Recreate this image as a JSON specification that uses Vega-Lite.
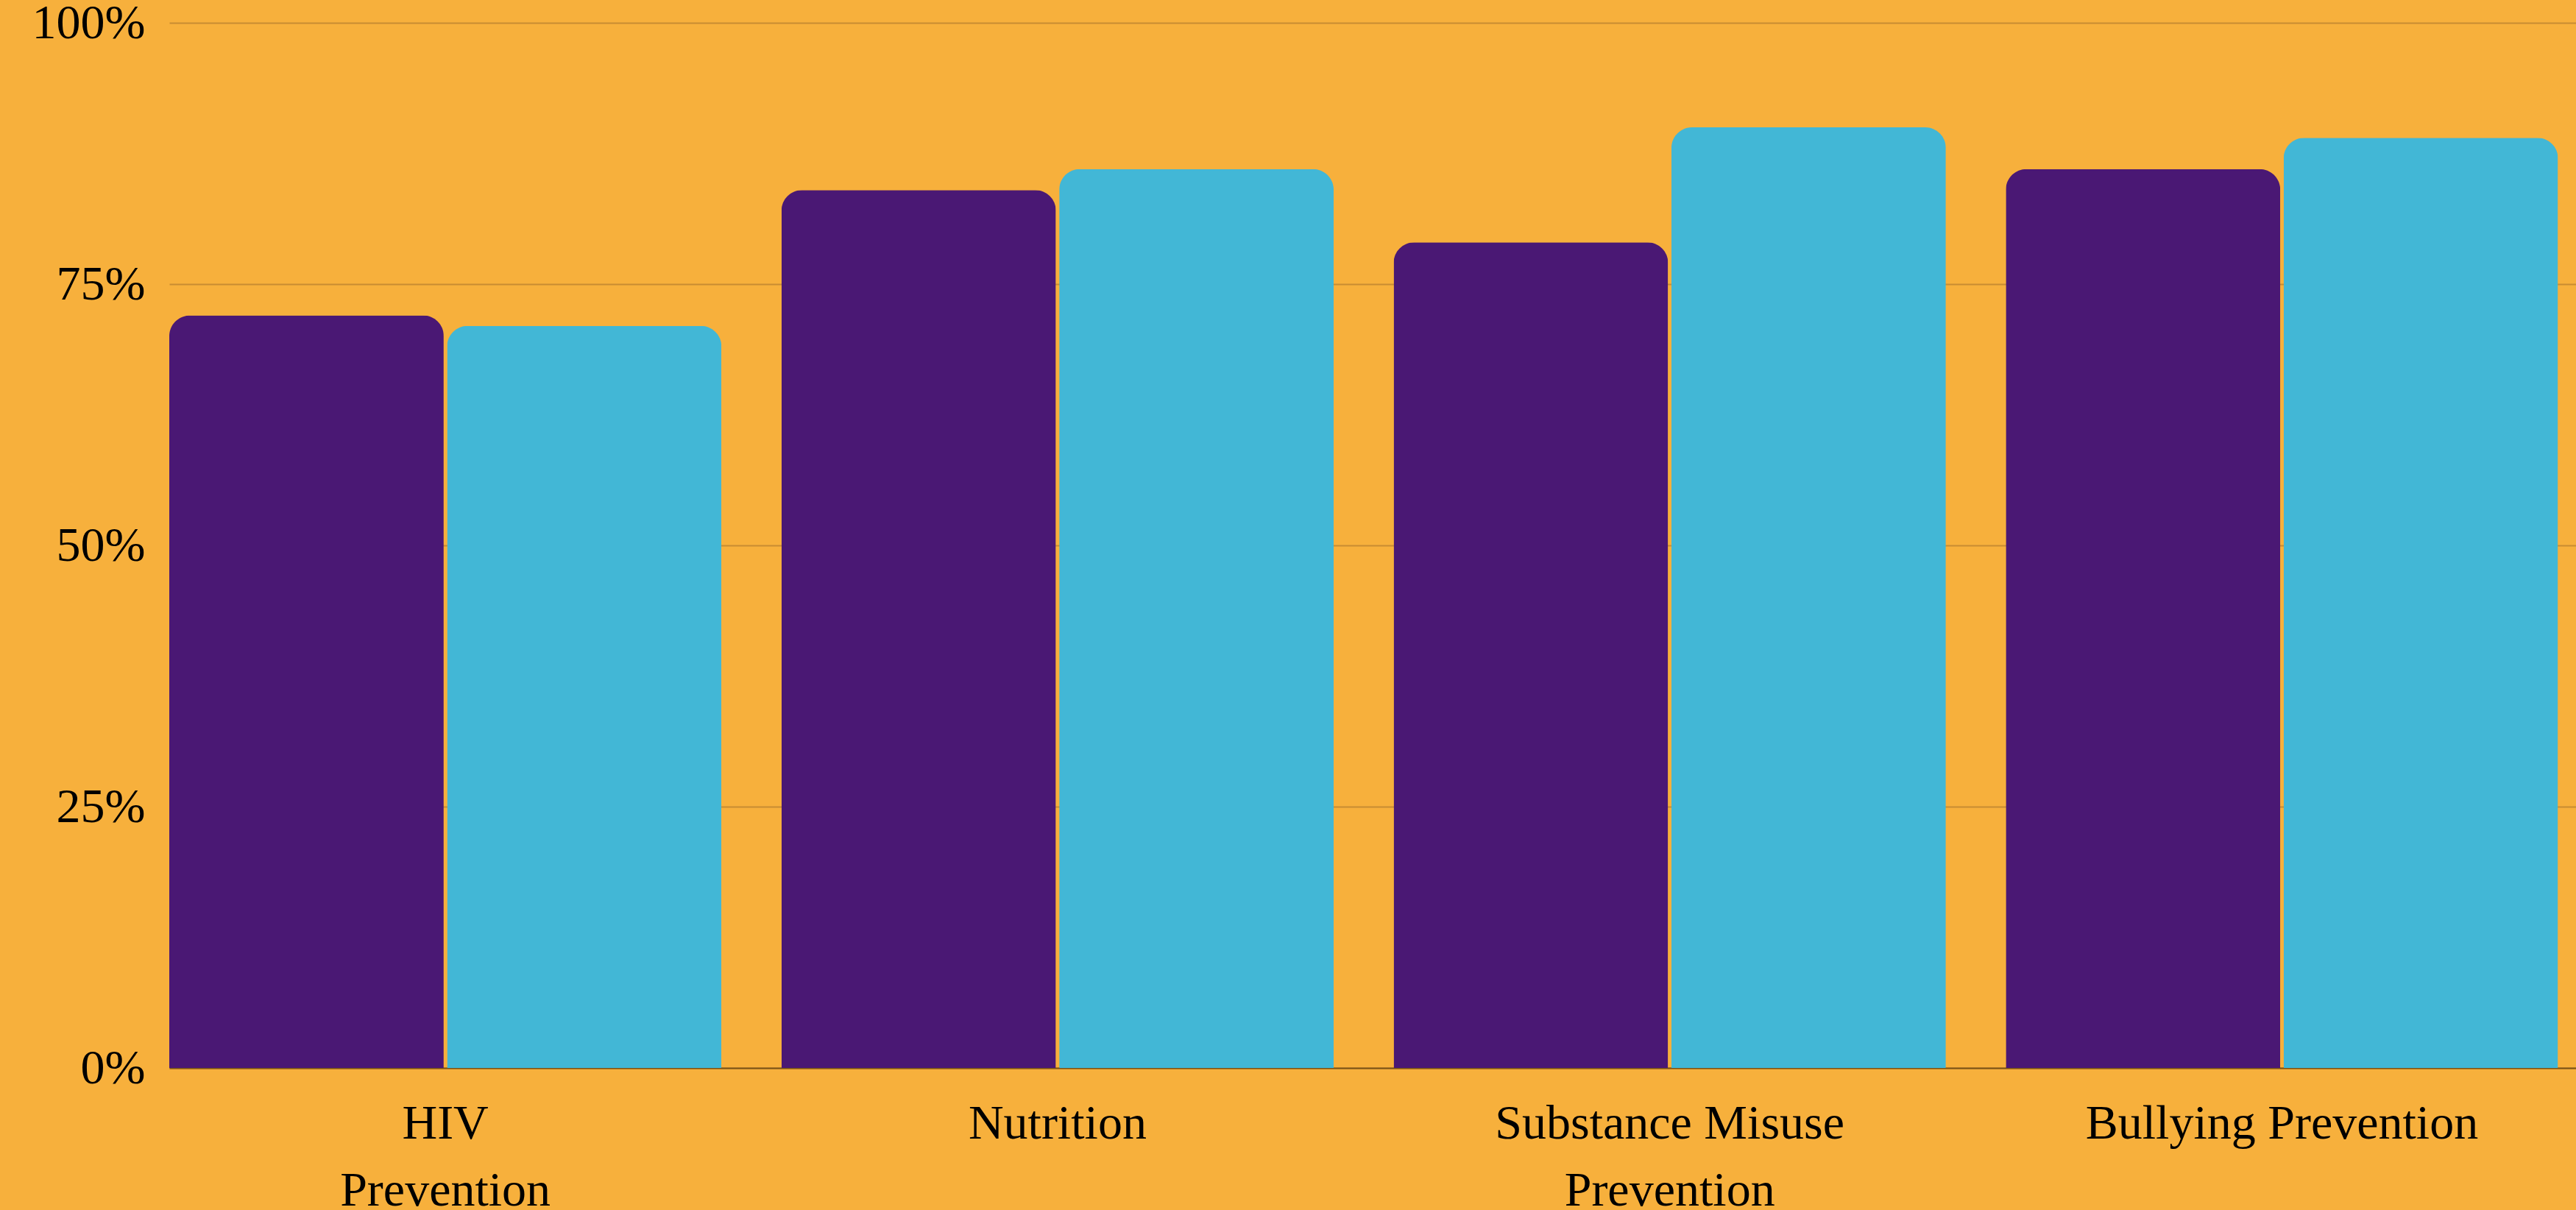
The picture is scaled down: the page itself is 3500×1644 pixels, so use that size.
{
  "$schema": "https://vega.github.io/schema/vega-lite/v6.json",
  "width": 3270,
  "height": 1420,
  "autosize": {"type": "none"},
  "padding": {"left": 230, "top": 31, "right": 0, "bottom": 193},
  "background": "#F7B03C",
  "config": {"view": {"stroke": null}},
  "data": {
    "values": [
      {"topic": "HIV Prevention", "series": "Series 1", "pct": 72},
      {"topic": "HIV Prevention", "series": "Series 2", "pct": 71},
      {"topic": "Nutrition", "series": "Series 1", "pct": 84},
      {"topic": "Nutrition", "series": "Series 2", "pct": 86},
      {"topic": "Substance Misuse Prevention", "series": "Series 1", "pct": 79},
      {"topic": "Substance Misuse Prevention", "series": "Series 2", "pct": 90},
      {"topic": "Bullying Prevention", "series": "Series 1", "pct": 86},
      {"topic": "Bullying Prevention", "series": "Series 2", "pct": 89}
    ]
  },
  "mark": {"type": "bar", "cornerRadiusTopLeft": 28, "cornerRadiusTopRight": 28},
  "encoding": {
    "x": {
      "field": "topic",
      "type": "nominal",
      "sort": ["HIV Prevention", "Nutrition", "Substance Misuse Prevention", "Bullying Prevention"],
      "scale": {"paddingInner": 0.098, "paddingOuter": 0.0147, "align": 0},
      "axis": {
        "title": null,
        "ticks": false,
        "domain": true,
        "domainColor": "#7B5316",
        "domainWidth": 2,
        "grid": false,
        "labelAngle": 0,
        "labelFont": "Liberation Serif",
        "labelFontSize": 66,
        "labelColor": "#000000",
        "labelPadding": 43,
        "labelLineHeight": 91,
        "labelLimit": 0,
        "labelExpr": "datum.value == 'HIV Prevention' ? ['HIV', 'Prevention'] : datum.value == 'Substance Misuse Prevention' ? ['Substance Misuse', 'Prevention'] : datum.value"
      }
    },
    "xOffset": {
      "field": "series",
      "type": "nominal",
      "scale": {"paddingInner": 0.012, "paddingOuter": 0}
    },
    "y": {
      "field": "pct",
      "type": "quantitative",
      "scale": {"domain": [0, 100], "nice": false},
      "axis": {
        "title": null,
        "values": [0, 25, 50, 75, 100],
        "labelExpr": "datum.value + '%'",
        "domain": false,
        "ticks": false,
        "grid": true,
        "gridColor": "#C88C32",
        "gridWidth": 2,
        "gridOpacity": 1,
        "labelFont": "Liberation Serif",
        "labelFontSize": 66,
        "labelColor": "#000000",
        "labelPadding": 33,
        "labelFlush": false
      }
    },
    "color": {
      "field": "series",
      "type": "nominal",
      "scale": {"domain": ["Series 1", "Series 2"], "range": ["#4A1874", "#42B7D6"]},
      "legend": null
    }
  }
}
